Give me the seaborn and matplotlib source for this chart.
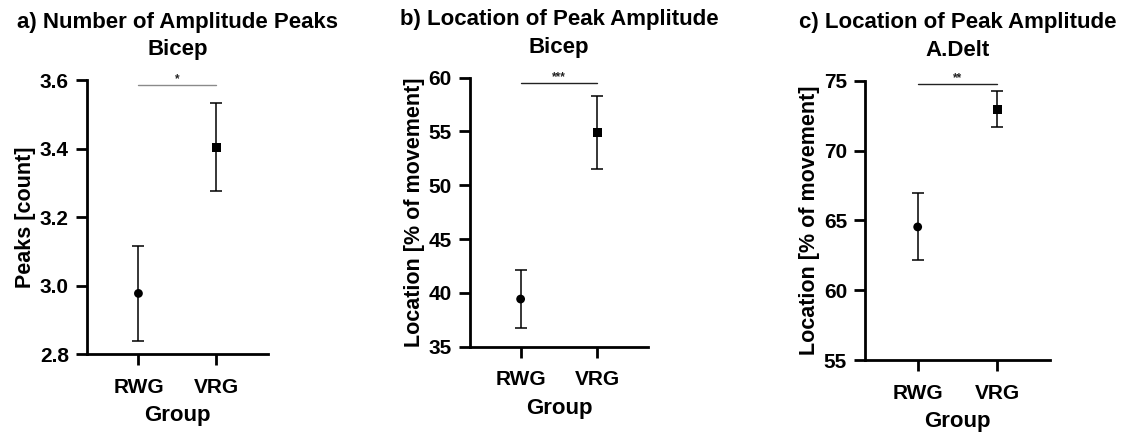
import matplotlib
matplotlib.use("Agg")
import matplotlib.pyplot as plt
import seaborn as sns
import pandas as pd

sns.set_theme(style="ticks")
plt.rcParams["font.family"] = ["Liberation Sans", "DejaVu Sans"]
plt.rcParams["font.weight"] = "bold"
for key in ("text.color", "axes.labelcolor", "xtick.color", "ytick.color"):
    plt.rcParams[key] = "black"

groups = ["RWG", "VRG"]
markers = {"RWG": "o", "VRG": "s"}

# mean and error (SEM) per group for each panel
peaks_mean = [2.977, 3.404]
peaks_err = [0.138, 0.128]

bicep_loc_mean = [39.43, 54.92]
bicep_loc_err = [2.70, 3.40]

delt_loc_mean = [64.53, 72.95]
delt_loc_err = [2.40, 1.30]

panels = [
    dict(title="a) Number of Amplitude Peaks\nBicep", ylabel="Peaks [count]",
         mean=peaks_mean, err=peaks_err, ylim=(2.8, 3.6),
         yticks=[2.8, 3.0, 3.2, 3.4, 3.6], yfmt="{:.1f}",
         sig="*", sig_y=3.586, sig_color="#8a8a8a",
         rect=[0.0775, 0.188, 0.1613, 0.6284]),
    dict(title="b) Location of Peak Amplitude\nBicep", ylabel="Location [% of movement]",
         mean=bicep_loc_mean, err=bicep_loc_err, ylim=(35, 60),
         yticks=[35, 40, 45, 50, 55, 60], yfmt="{:.0f}",
         sig="***", sig_y=59.5, sig_color="#222222",
         rect=[0.4189, 0.2048, 0.1586, 0.617]),
    dict(title="c) Location of Peak Amplitude\nA.Delt", ylabel="Location [% of movement]",
         mean=delt_loc_mean, err=delt_loc_err, ylim=(55, 75),
         yticks=[55, 60, 65, 70, 75], yfmt="{:.0f}",
         sig="**", sig_y=74.76, sig_color="#222222",
         rect=[0.771, 0.1743, 0.1649, 0.6406]),
]

fig = plt.figure(figsize=(11.22, 4.36), dpi=100)

for p in panels:
    ax = fig.add_axes(p["rect"])
    df = pd.DataFrame({"Group": groups, "value": p["mean"], "err": p["err"]})
    sns.scatterplot(data=df, x="Group", y="value", style="Group", markers=markers,
                    color="black", s=40, edgecolor="black", linewidth=0,
                    legend=False, ax=ax, zorder=3)
    ax.errorbar(df["Group"], df["value"], yerr=df["err"], fmt="none",
                ecolor="black", elinewidth=1.1, capsize=4, capthick=1.1, zorder=2)

    # significance bracket between the two groups
    ax.plot([0, 1], [p["sig_y"], p["sig_y"]], color=p["sig_color"], lw=1.0,
            clip_on=False, zorder=2)
    ax.text(0.5, p["sig_y"], p["sig"], ha="center", va="bottom", fontsize=8.5,
            color="#222222", fontweight="bold")

    ax.set_xlim(-0.66, 1.66)
    ax.set_ylim(*p["ylim"])
    ax.set_yticks(p["yticks"])
    ax.set_yticklabels([p["yfmt"].format(v) for v in p["yticks"]])
    ax.set_title(p["title"], fontsize=16, fontweight="bold", pad=18, linespacing=1.4)
    ax.set_ylabel(p["ylabel"], fontsize=15.5, fontweight="bold", labelpad=3)
    ax.set_xlabel("Group", fontsize=16, fontweight="bold", labelpad=6)

    sns.despine(ax=ax)
    for side in ("left", "bottom"):
        ax.spines[side].set_linewidth(2.0)
        ax.spines[side].set_color("black")
    ax.tick_params(axis="both", width=2.0, length=8, color="black")
    ax.tick_params(axis="y", labelsize=15, pad=5)
    ax.tick_params(axis="x", labelsize=15, pad=9)
    for lab in ax.get_xticklabels() + ax.get_yticklabels():
        lab.set_fontweight("bold")

fig.savefig("out.png", dpi=100)
